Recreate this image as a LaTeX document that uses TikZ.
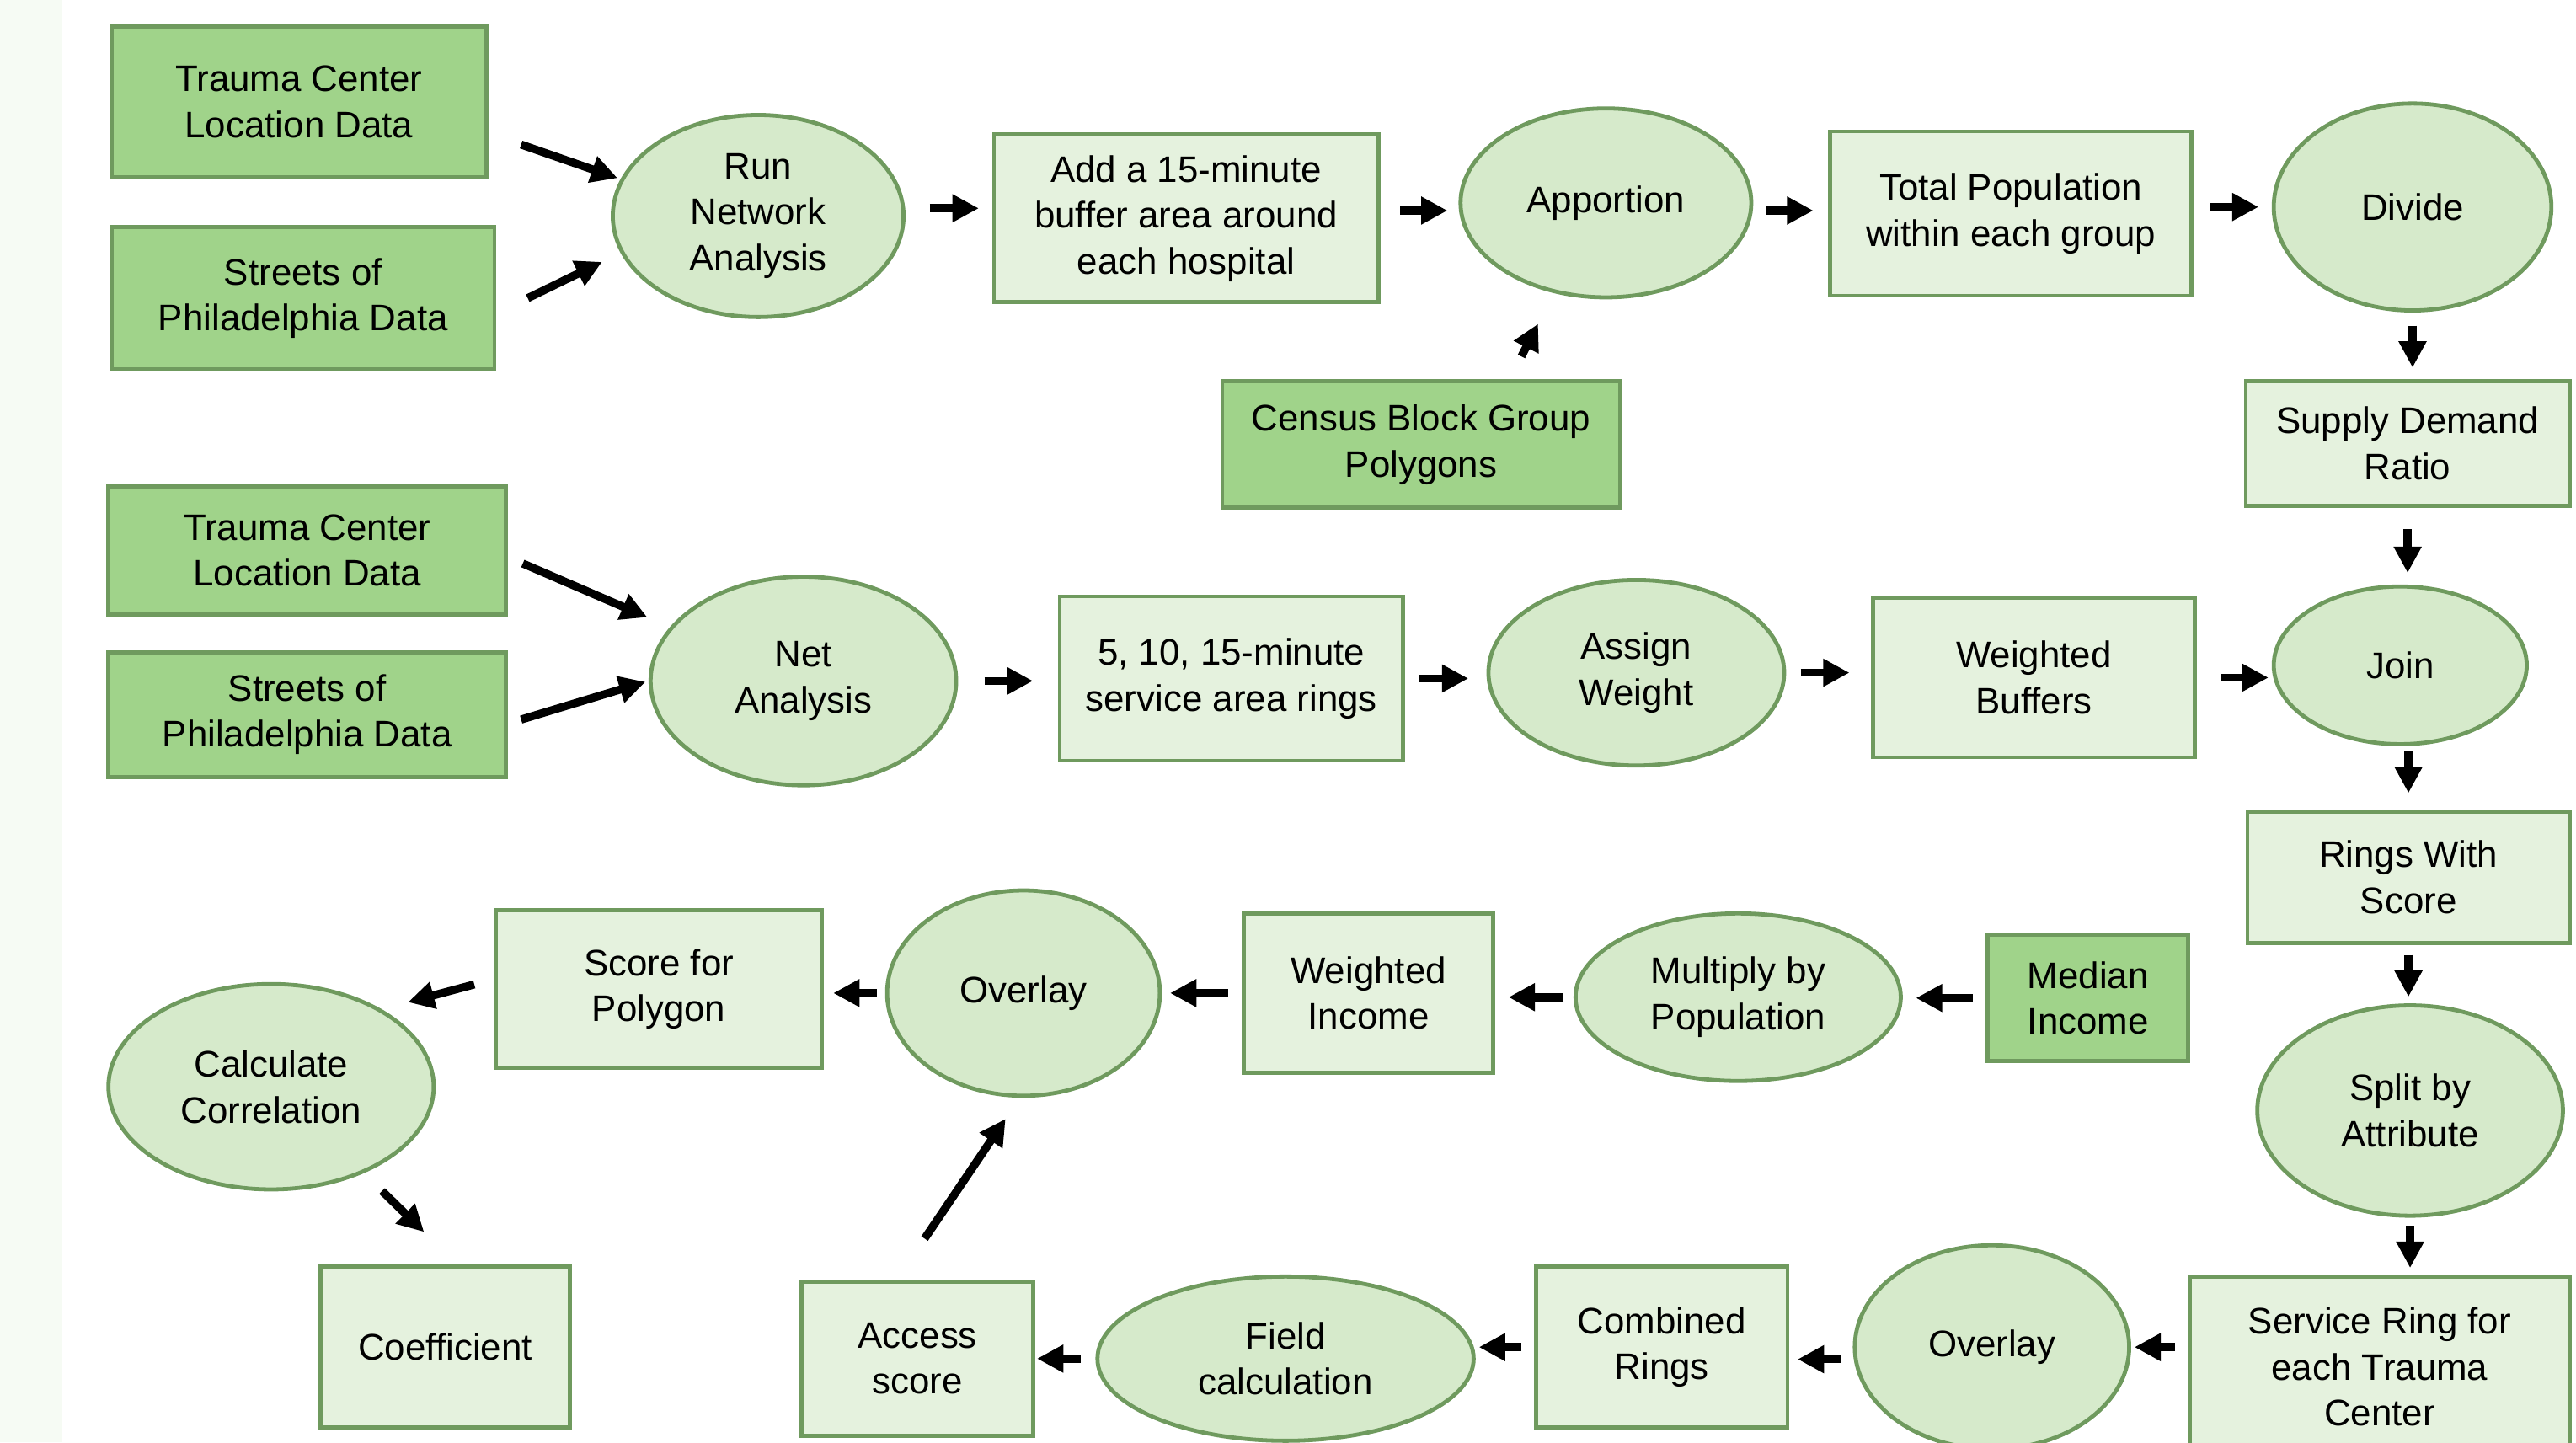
\documentclass[tikz,border=0pt]{standalone}
\usepackage{fontspec}
\setmainfont{Liberation Sans}
\usetikzlibrary{shapes.geometric}
\usetikzlibrary{arrows.meta}
\definecolor{srcfill}{HTML}{A0D38A}
\definecolor{resfill}{HTML}{E5F2DE}
\definecolor{procfill}{HTML}{D6EACB}
\definecolor{edgegreen}{HTML}{6F9A5E}
\definecolor{leftband}{HTML}{F6FBF4}

\begin{document}
\begin{tikzpicture}[
		src/.style={rectangle,draw=edgegreen,fill=srcfill,line width=1.4pt,inner sep=0pt,align=center,font=\fontsize{12.8}{15.9}\selectfont},
		res/.style={src,fill=resfill},
		proc/.style={ellipse,draw=edgegreen,fill=procfill,line width=1.4pt,inner sep=0pt,align=center,font=\fontsize{12.8}{15.9}\selectfont},
		sz/.style 2 args={minimum width=#1cm,minimum height=#2cm},
		arr/.style={-{Triangle[length=3.2mm,width=3.2mm]},line width=2.8pt,shorten <=0.16cm,shorten >=0.14cm}]
	\useasboundingbox (0,0) rectangle (31.36,17.56);
	\fill[leftband] (0,0) rectangle (0.76,17.56);
	%% first workflow
	\node (tc1) at (3.64,16.32) [src,sz={4.56}{1.84}] {Trauma Center\\Location Data};
	\node (st1) at (3.69,13.93) [src,sz={4.66}{1.74}] {Streets of\\Philadelphia Data};
	\node (run) at (9.23,14.93) [proc,sz={3.54}{2.46}] {Run\\Network\\Analysis};
	\node (buf) at (14.44,14.90) [res,sz={4.68}{2.04}] {Add a 15-minute\\buffer area around\\each hospital};
	\node (app) at (19.55,15.09) [proc,sz={3.54}{2.30}] {Apportion};
	\node (tot) at (24.48,14.96) [res,sz={4.40}{2.00}] {Total Population\\within each group};
	\node (div) at (29.37,15.04) [proc,sz={3.38}{2.52}] {Divide};
	\node (cen) at (17.30,12.15) [src,sz={4.84}{1.54}] {Census Block Group\\Polygons};
	\node (sdr) at (29.31,12.16) [res,sz={3.94}{1.52}] {Supply Demand\\Ratio};
	%% second workflow
	\node (tc2) at (3.74,10.86) [src,sz={4.84}{1.56}] {Trauma Center\\Location Data};
	\node (st2) at (3.74,8.86) [src,sz={4.84}{1.52}] {Streets of\\Philadelphia Data};
	\node (net) at (9.78,9.27) [proc,sz={3.72}{2.54}] {Net\\Analysis};
	\node (rng) at (14.99,9.30) [res,sz={4.18}{2.00}] {5, 10, 15-minute\\service area rings};
	\node (asw) at (19.92,9.37) [proc,sz={3.60}{2.26}] {Assign\\Weight};
	\node (wbf) at (24.76,9.31) [res,sz={3.92}{1.94}] {Weighted\\Buffers};
	\node (join) at (29.22,9.46) [proc,sz={3.08}{1.92}] {Join};
	\node (rws) at (29.32,6.88) [res,sz={3.92}{1.60}] {Rings With\\Score};
	\node (spl) at (29.34,4.04) [proc,sz={3.72}{2.56}] {Split by\\Attribute};
	\node (srv) at (28.97,0.92) [res,sz={4.62}{2.20}] {Service Ring for\\each Trauma\\Center};
	\node (ov2) at (24.25,1.16) [proc,sz={3.34}{2.48}] {Overlay};
	\node (cmb) at (20.23,1.16) [res,sz={3.06}{1.96}] {Combined\\Rings};
	\node (fld) at (15.65,1.02) [proc,sz={4.58}{2.00}] {Field\\calculation};
	\node (acc) at (11.17,1.02) [res,sz={2.82}{1.88}] {Access\\score};
	%% income and correlation
	\node (med) at (25.42,5.41) [src,sz={2.44}{1.54}] {Median\\Income};
	\node (mul) at (21.16,5.42) [proc,sz={3.96}{2.04}] {Multiply by\\Population};
	\node (win) at (16.66,5.47) [res,sz={3.04}{1.94}] {Weighted\\Income};
	\node (ov1) at (12.46,5.47) [proc,sz={3.32}{2.50}] {Overlay};
	\node (scp) at (8.02,5.52) [res,sz={3.96}{1.92}] {Score for\\Polygon};
	\node (cal) at (3.30,4.33) [proc,sz={3.96}{2.50}] {Calculate\\Correlation};
	\node (coe) at (5.42,1.16) [res,sz={3.04}{1.96}] {Coefficient};
	%% arrows, first workflow
	\draw[arr,shorten <=0pt,shorten >=0.04cm] ([shift={(0.4,-0.52)}]tc1.east) -- (run.165);
	\draw[arr,shorten <=0pt,shorten >=0.25cm] ([xshift=0.38cm]st1.east) -- (run.195);
	\draw[arr,shorten <=0.3cm,shorten >=0.16cm] (run.3) -- (run.3 -| buf.west);
	\draw[arr,shorten <=0.24cm] (app.183 -| buf.east) -- (app.183);
	\draw[arr,shorten >=0.18cm] (app.357) -- (app.357 -| tot.west);
	\draw[arr,shorten <=0.2cm,shorten >=0.16cm] (div.west -| tot.east) -- (div.west);
	\draw[arr,shorten <=0.31cm,shorten >=0.42cm] ([xshift=1.08cm]cen.north) -- (app.240);
	\draw[arr] (div.south) -- (div.south |- sdr.north);
	\draw[arr,shorten <=0.26cm] (sdr.south) -- (sdr.south |- join.north);
	%% arrows, second workflow
	\draw[arr,shorten <=0pt,shorten >=0.3cm] ([shift={(0.18,-0.16)}]tc2.east) -- (net.158);
	\draw[arr,shorten <=0pt,shorten >=0.04cm] ([shift={(0.16,-0.06)}]st2.east) -- (net.west);
	\draw[arr,shorten <=0.32cm,shorten >=0.3cm] (net.east) -- (net.east -| rng.west);
	\draw[arr,shorten <=0.18cm,shorten >=0.22cm] (rng.east) -- (rng.east -| asw.west);
	\draw[arr,shorten <=0.18cm,shorten >=0.26cm] (asw.east) -- (asw.east -| wbf.west);
	\draw[arr,shorten <=0.3cm,shorten >=0.04cm] (wbf.east) -- (wbf.east -| join.west);
	\draw[arr,shorten <=0.06cm,shorten >=0.2cm] (rws.north |- join.south) -- (rws.north);
	\draw[arr,shorten <=0.12cm,shorten >=0.08cm] (rws.south) -- (rws.south |- spl.north);
	\draw[arr,shorten <=0.1cm,shorten >=0.08cm] (spl.south) -- (spl.south |- srv.north);
	\draw[arr,shorten >=0.04cm] (ov2.east -| srv.west) -- (ov2.east);
	\draw[arr,shorten >=0.1cm] (ov2.185) -- (ov2.185 -| cmb.east);
	\draw[arr,shorten >=0.04cm] (cmb.west) -- (cmb.west -| fld.east);
	\draw[arr,shorten <=0.18cm,shorten >=0.02cm] (fld.west) -- (fld.west -| acc.east);
	\draw[arr,shorten <=0.6cm,shorten >=0.31cm] ([xshift=-0.25cm]acc.north) -- (ov1.268);
	%% arrows, income and correlation
	\draw[arr,shorten >=0.16cm] (med.west) -- (med.west -| mul.east);
	\draw[arr,shorten <=0.12cm,shorten >=0.16cm] (mul.west) -- (mul.west -| win.east);
	\draw[arr,shorten >=0.1cm] (win.west) -- (win.west -| ov1.east);
	\draw[arr,shorten <=0.1cm,shorten >=0.12cm] (ov1.west) -- (ov1.west -| scp.east);
	\draw[arr,shorten <=0.25cm,shorten >=0.33cm] ([yshift=0.12cm]scp.west) -- (cal.35);
	\draw[arr,shorten <=0.31cm,shorten >=0.57cm] (cal.-43) -- ([xshift=0.15cm]coe.north);
\end{tikzpicture}
\end{document}
